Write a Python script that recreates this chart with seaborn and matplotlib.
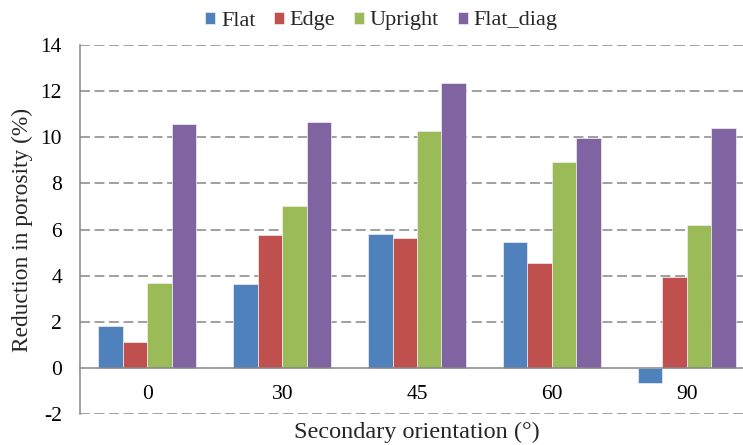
import matplotlib
matplotlib.use("Agg")
import matplotlib.pyplot as plt
import seaborn as sns
import pandas as pd

categories = ["0", "30", "45", "60", "90"]
series = ["Flat", "Edge", "Upright", "Flat_diag"]
flat = [1.83, 3.66, 5.80, 5.47, -0.63]
edge = [1.13, 5.76, 5.62, 4.57, 3.94]
upright = [3.71, 7.01, 10.27, 8.92, 6.22]
flat_diag = [10.57, 10.65, 12.34, 9.97, 10.42]
colors = ["#4F81BD", "#C0504D", "#9BBB59", "#8064A2"]
yticks = [-2, 0, 2, 4, 6, 8, 10, 12, 14]

rows = []
for name, vals in zip(series, [flat, edge, upright, flat_diag]):
    for c, v in zip(categories, vals):
        rows.append({"cat": c, "series": name, "value": v})
df = pd.DataFrame(rows)

sns.set_theme(style="white")
plt.rcParams["font.family"] = ["Liberation Serif", "DejaVu Serif"]

W, H = 743, 445
fig = plt.figure(figsize=(W / 100, H / 100), dpi=100)
ax_left, ax_right = 80, 754
ax_top, ax_bot = 45, 414.3
ax = fig.add_axes([ax_left / W, 1 - ax_bot / H, (ax_right - ax_left) / W, (ax_bot - ax_top) / H])

sns.barplot(data=df, x="cat", y="value", hue="series", order=categories,
            hue_order=series, palette=colors, saturation=1, width=0.727, gap=0,
            edgecolor="#f0f0f0", linewidth=0.5, ax=ax, legend=True)

gray = "#868686"
ax.set_xlim(-0.5, 4.5)
ax.set_ylim(-2, 14)
ax.set_yticks(yticks)
ax.set_yticklabels([str(t) for t in yticks])
for t in yticks:
    if t != 0:
        ax.axhline(t, color=gray, lw=1.1, ls=(0, (6.5, 3)), zorder=0)

for s in ["top", "right"]:
    ax.spines[s].set_visible(False)
ax.spines["left"].set_color(gray)
ax.spines["left"].set_linewidth(1.1)
ax.spines["bottom"].set_position(("data", 0))
ax.spines["bottom"].set_color(gray)
ax.spines["bottom"].set_linewidth(1.1)

ax.set_xticks(range(len(categories)))
ax.set_xticklabels(categories)
ax.set_xticks([0.5, 1.5, 2.5, 3.5], minor=True)
ax.tick_params(axis="x", which="major", length=0, pad=12, labelsize=15.5, colors="black")
ax.tick_params(axis="x", which="minor", length=4, width=1.1, color=gray, direction="out")
ax.tick_params(axis="y", length=5, width=1.1, color=gray, direction="out", pad=8,
               labelsize=15.5, labelcolor="black")

ax.set_xlabel("")
ax.set_ylabel("Reduction in porosity (%)", fontsize=16.8, labelpad=5)
fig.text((ax_left + ax_right) / 2 / W, 1 - 432 / H, "Secondary orientation (°)",
         ha="center", va="center", fontsize=17.5)

handles, labels = ax.get_legend_handles_labels()
ax.get_legend().remove()
fig.legend(handles, labels, loc="center", bbox_to_anchor=(381.5 / W, 1 - 21 / H),
           ncol=4, frameon=False, fontsize=16, handlelength=0.45, handleheight=0.45,
           handletextpad=0.25, columnspacing=0.85, borderaxespad=0)

fig.savefig("out.png", dpi=100)
